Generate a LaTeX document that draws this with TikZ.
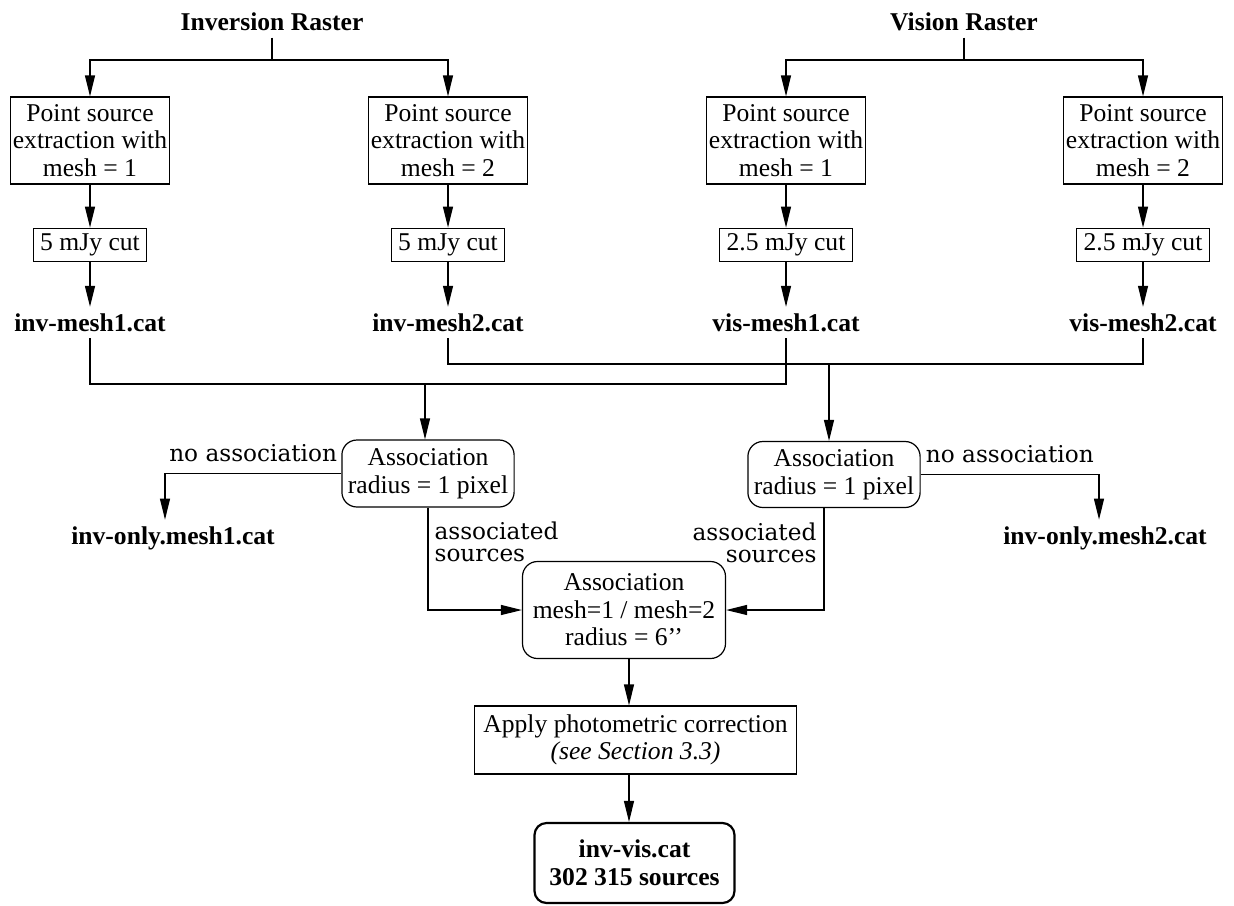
\documentclass[tikz,border=0pt]{standalone}
\usepackage{fontspec}
\setmainfont{Liberation Serif}
\newfontfamily\lblfont{DejaVu Serif}
\usetikzlibrary{positioning, arrows.meta}

\newcommand{\figfont}{\fontsize{12.8}{13.75}\selectfont}

\begin{document}
\begin{tikzpicture}[
        x=0.5pt, y=-0.5pt,
        line width=0.6pt,
        title/.style = {font=\figfont\bfseries, inner sep=3pt},
        box/.style = {draw, rectangle, align=center, font=\figfont, minimum width=79pt, minimum height=43.5pt, inner sep=1pt},
        cutbox/.style = {draw, rectangle, font=\figfont, inner xsep=3.5pt, inner ysep=1pt, minimum height=16.5pt},
        cat/.style = {font=\figfont\bfseries, inner sep=3pt},
        assocbox/.style = {draw, rectangle, rounded corners=7.5pt, align=center, font=\figfont, inner sep=3pt},
        resultbox/.style = {draw, rectangle, rounded corners=6pt, align=center, font=\figfont\bfseries, line width=1.1pt, minimum width=100pt, minimum height=40pt},
        lbl/.style = {font=\lblfont\fontsize{11.6}{11}\selectfont, inner sep=2pt},
        arrow/.style = {-{Triangle[length=10.5pt, width=5pt]}}
      ]
      \useasboundingbox (0,0) rectangle (1234,905);

      % ================= RASTERS =================
      \node[title] (invr) at (272,22) {Inversion Raster};
      \node[title] (visr) at (964,22) {Vision Raster};
      \coordinate (isplit) at (272,60);
      \coordinate (vsplit) at (964,60);

      % ================= EXTRACTION =================
      \node[box] (ie1) at (90,140.5) {Point source\\extraction with\\mesh = 1};
      \node[box] (ie2) at (448,140.5) {Point source\\extraction with\\mesh = 2};
      \node[box] (ve1) at (786,140.5) {Point source\\extraction with\\mesh = 1};
      \node[box] (ve2) at (1143,140.5) {Point source\\extraction with\\mesh = 2};

      \draw[arrow] (invr.south) |- (isplit) -| (ie1.north);
      \draw[arrow] (isplit) -| (ie2.north);
      \draw[arrow] (visr.south) |- (vsplit) -| (ve1.north);
      \draw[arrow] (vsplit) -| (ve2.north);

      % flux cuts
      \node[cutbox, below=21.5pt of ie1] (ic1) {5 mJy cut};
      \node[cutbox, below=21.5pt of ie2] (ic2) {5 mJy cut};
      \node[cutbox, below=21.5pt of ve1] (vc1) {2.5 mJy cut};
      \node[cutbox, below=21.5pt of ve2] (vc2) {2.5 mJy cut};

      % catalogues
      \node[cat, below=22.5pt of ic1] (im1) {inv-mesh1.cat};
      \node[cat, below=22.5pt of ic2] (im2) {inv-mesh2.cat};
      \node[cat, below=22.5pt of vc1] (vm1) {vis-mesh1.cat};
      \node[cat, below=22.5pt of vc2] (vm2) {vis-mesh2.cat};

      \foreach \n in {i, v} {
        \foreach \k in {1, 2} {
          \draw[arrow] (\n e\k) -- (\n c\k);
          \draw[arrow] (\n c\k) -- (\n m\k);
        }
      }

      % ================= ASSOCIATION (radius) =================
      \node[assocbox, minimum width=86pt, minimum height=33.5pt] (assoc1) at (428,473.5) {Association\\radius = 1 pixel};
      \node[assocbox, minimum width=86pt, minimum height=33pt] (assoc2) at (834,474.5) {Association\\radius = 1 pixel};

      \coordinate (drop1) at (425,384);
      \coordinate (drop2) at (829,364);
      \draw (im1) |- (drop1) -| (vm1);
      \draw[arrow] (drop1) -- (drop1 |- assoc1.north);
      \draw (im2) |- (drop2) -| (vm2);
      \draw[arrow] (drop2) -- (drop2 |- assoc2.north);

      % unmatched sources
      \node[cat, anchor=base] (io1) at (173,544) {inv-only.mesh1.cat};
      \node[cat, anchor=base] (io2) at (1105,544) {inv-only.mesh2.cat};
      \draw[arrow] (assoc1) -| node[lbl, pos=.25, above=3.5pt] (noa1) {no association} ([xshift=-4pt]io1.north);
      \draw[arrow] (assoc2) -| node[lbl, pos=.25, above=3.5pt] (noa2) {no association} ([xshift=-3pt]io2.north);

      % ================= ASSOCIATION (mesh) =================
      \node[assocbox, minimum width=101.5pt, minimum height=48.5pt] (assocm) at (624,610) {Association\\mesh=1 / mesh=2\\radius = 6{'}{'}};

      \draw[arrow] (assoc1) |- node[lbl, pos=0, anchor=north west, align=left, xshift=1pt, yshift=-5pt] (as1) {associated\\sources} (assocm);
      \draw[arrow] ([xshift=-5pt]assoc2.south) |- node[lbl, pos=0, anchor=north east, align=right, xshift=-1.5pt, yshift=-5pt] (as2) {associated\\sources} (assocm);

      % ================= PHOTOMETRY & RESULT =================
      \node[draw, rectangle, align=center, font=\figfont, inner xsep=4.5pt, minimum height=34pt] (phot) at (635.5,740) {Apply photometric correction\\\textit{(see Section 3.3)}};
      \node[resultbox] (result) at (634.5,863) {inv-vis.cat\\302 315 sources};

      \coordinate (spine) at (629,0);
      \draw[arrow] (spine |- assocm.south) -- (spine |- phot.north);
      \draw[arrow] (spine |- phot.south) -- (spine |- result.north);

    \end{tikzpicture}
\end{document}
